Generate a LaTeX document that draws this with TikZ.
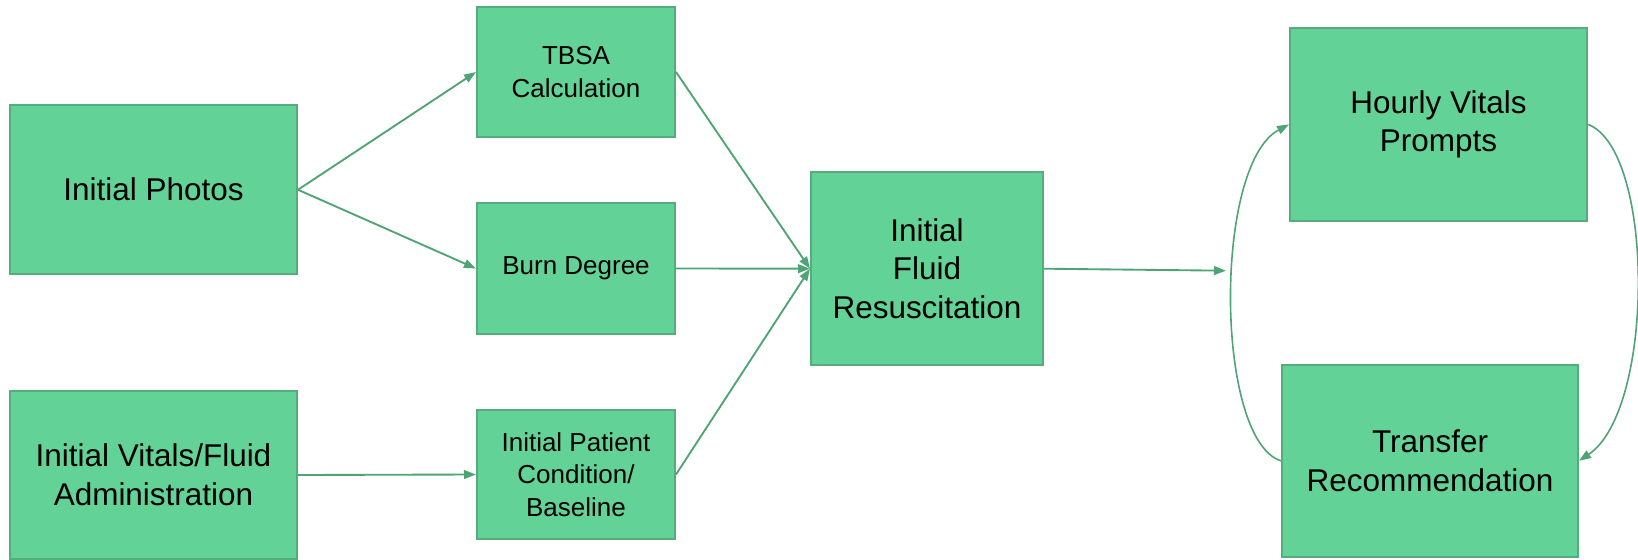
\documentclass[tikz,border=0pt]{standalone}
\usepackage{fontspec}
\setmainfont{Liberation Sans}
\usetikzlibrary{arrows.meta}
\definecolor{boxfill}{HTML}{62D296}
\definecolor{boxline}{HTML}{55AD7D}
\definecolor{flow}{HTML}{4FA476}

\begin{document}
\begin{tikzpicture}[x=0.75pt,y=-0.75pt,
  box/.style={draw=boxline, line width=1.5pt, fill=boxfill, align=center, inner sep=0pt, text=black},
  bigtext/.style={font=\fontsize{23.6pt}{29pt}\selectfont},
  smalltext/.style={font=\fontsize{19.5pt}{24.3pt}\selectfont},
  flowarrow/.style={draw=flow, line width=1.4pt, -{Triangle[length=9pt,width=6.5pt]}},
  cyclearrow/.style={draw=flow, line width=1.2pt, -{Triangle[length=9pt,width=6.5pt]}}
]
\useasboundingbox (0,0) rectangle (1638,560);

% first column: inputs
\node[box,bigtext,minimum width=215.25pt,minimum height=126.4pt] (photos) at (153.5,189.75) {Initial Photos};
\node[box,bigtext,minimum width=215.25pt,minimum height=126pt] (vitals) at (153.5,475) {Initial Vitals/Fluid\\Administration};

% second column: assessments
\node[box,smalltext,minimum width=148.5pt,minimum height=97.5pt] (tbsa) at (576,72) {TBSA\\Calculation};
\node[box,smalltext,minimum width=148.5pt,minimum height=98.25pt] (burn) at (576,268.5) {Burn Degree};
\node[box,smalltext,minimum width=148.5pt,minimum height=96.75pt] (patient) at (576,474.5) {Initial Patient\\Condition/\\Baseline};

% resuscitation step
\node[box,bigtext,minimum width=174pt,minimum height=144.45pt] (ifr) at (927,268.7) {Initial\\Fluid\\Resuscitation};

% monitoring cycle
\node[box,bigtext,minimum width=222.75pt,minimum height=144.5pt] (hourly) at (1438.5,124.4) {Hourly Vitals\\Prompts};
\node[box,bigtext,minimum width=222pt,minimum height=144.3pt] (transfer) at (1430,460.8) {Transfer\\Recommendation};
\coordinate (cyclein) at (1226,270.7);

% connectors
\draw[flowarrow] (photos.east) -- (tbsa.west);
\draw[flowarrow] (photos.east) -- (burn.west);
\draw[flowarrow] (vitals.east) -- (patient.west);
\draw[flowarrow] (tbsa.east) -- (ifr.west);
\draw[flowarrow] (burn.east) -- (ifr.west);
\draw[flowarrow] (patient.east) -- (ifr.west);
\draw[flowarrow] (ifr.east) -- (cyclein);
\draw[cyclearrow] (transfer.west) .. controls (1215,440) and (1213,165) .. (hourly.west);
\draw[cyclearrow] (hourly.east) .. controls (1655,150) and (1655,410) .. (transfer.east);
\end{tikzpicture}
\end{document}
